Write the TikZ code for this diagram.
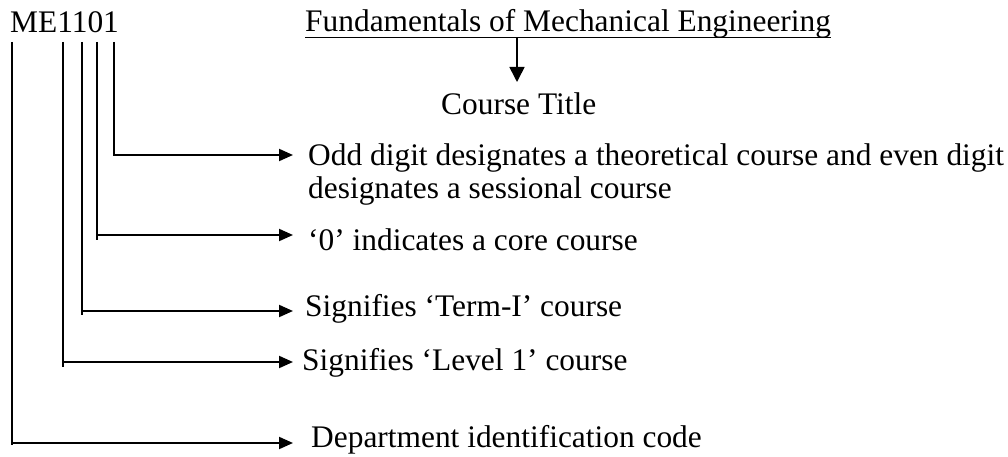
\documentclass[tikz,border=0pt]{standalone}
\usepackage{fontspec}
\setmainfont{Liberation Serif}
\usetikzlibrary{arrows.meta}
\begin{document}
\begin{tikzpicture}[x=1pt,y=-1pt,
  txt/.style={anchor=base west,inner sep=0pt,font=\fontsize{31.4}{37}\selectfont},
  stem/.style={line width=1.4pt},
  lead/.style={line width=2pt,-{Triangle[length=14pt,width=12pt]}},
  down/.style={line width=1.6pt,-{Triangle[length=15pt,width=15pt]}},
]
\useasboundingbox (0,0) rectangle (1008,457);
% texts
\node[txt] (code) at (10,33) {ME1101};
\node[txt] (title) at (305,32) {Fundamentals of Mechanical Engineering};
\draw[line width=1.6pt] ([yshift=-5.5pt]title.base west) -- ([yshift=-5.5pt]title.base east);
\node[txt] (ctitle) at (441,115) {Course Title};
\node[txt] (odd) at (308,166) {Odd digit designates a theoretical course and even digit};
\node[txt] (odd2) at (308,198) {designates a sessional course};
\node[txt] (core) at (308,250) {‘0’ indicates a core course};
\node[txt] (term) at (305,316) {Signifies ‘Term-I’ course};
\node[txt] (level) at (302,370) {Signifies ‘Level 1’ course};
\node[txt] (dept) at (311,447) {Department identification code};
% title arrow
\coordinate (ta) at (517,37.5);
\coordinate (tb) at (517,82);
\draw[down] (ta) -- (tb);
% digit stems
\coordinate (s1) at (12,42);  \coordinate (c1) at (12,445);  \coordinate (h1) at (12,443);  \coordinate (e1) at (293,443);
\coordinate (s2) at (63,42);  \coordinate (c2) at (63,367);  \coordinate (h2) at (63,362);  \coordinate (e2) at (293,362);
\coordinate (s3) at (82,42);  \coordinate (c3) at (82,315);  \coordinate (h3) at (82,311);  \coordinate (e3) at (293,311);
\coordinate (s4) at (97,42);  \coordinate (c4) at (97,240);  \coordinate (h4) at (97,235);  \coordinate (e4) at (293,235);
\coordinate (s5) at (114,42); \coordinate (c5) at (114,156); \coordinate (h5) at (114,155); \coordinate (e5) at (293,155);
\foreach \i in {1,...,5}{
  \draw[stem] (s\i) -- (c\i);
  \draw[lead] (h\i) -- (e\i);
}
\end{tikzpicture}
\end{document}
